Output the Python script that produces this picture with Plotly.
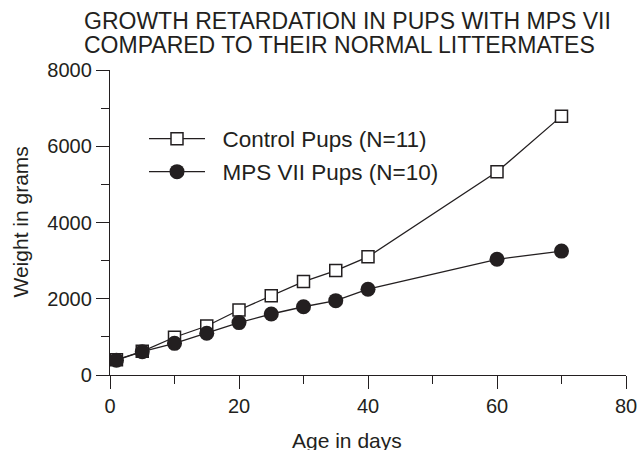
import plotly.graph_objects as go

# Body weight of pups over time (days of age vs grams)
days = [1, 5, 10, 15, 20, 25, 30, 35, 40, 60, 70]
control_weight = [400, 620, 990, 1285, 1705, 2080, 2450, 2740, 3100, 5330, 6790]
mps_weight = [390, 610, 830, 1095, 1375, 1600, 1790, 1950, 2250, 3035, 3250]

x_ticks = [0, 20, 40, 60, 80]
y_ticks = [0, 2000, 4000, 6000, 8000]

title_lines = ["GROWTH RETARDATION IN PUPS WITH MPS VII",
               "COMPARED TO THEIR NORMAL LITTERMATES"]

INK = "#231f20"
FONT = "Liberation Sans, Arial, Helvetica, sans-serif"
NBSP = "\u00a0"

# plot area in pixels
L, R, T, B = 110, 13, 70, 75
W, H = 639, 450
PW, PH = W - L - R, H - T - B


def px(xpix):
    return (xpix - L) / PW


def py(ypix):
    return (H - B - ypix) / PH


fig = go.Figure()

fig.add_trace(go.Scatter(
    x=days, y=control_weight, mode="lines+markers",
    name=NBSP * 2 + "Control Pups (N=11)", legend="legend",
    line=dict(color=INK, width=1.3),
    marker=dict(symbol="square", size=12, color="white",
                line=dict(color=INK, width=1.5)),
))
fig.add_trace(go.Scatter(
    x=days, y=mps_weight, mode="lines+markers",
    name=NBSP * 2 + "MPS VII Pups (N=10)", legend="legend2",
    line=dict(color=INK, width=1.3),
    marker=dict(symbol="circle", size=15, color=INK,
                line=dict(color=INK, width=0)),
))

axis_common = dict(
    showline=True, linecolor=INK, linewidth=1.3,
    ticks="outside", ticklen=13, tickwidth=1.3, tickcolor=INK,
    showgrid=False, zeroline=False, automargin=False,
    tickfont=dict(family=FONT, size=20, color=INK),
)

fig.update_xaxes(range=[0, 80], tickvals=x_ticks,
                 minor=dict(dtick=10, ticks="outside", ticklen=8,
                            tickwidth=1.3, tickcolor=INK),
                 **axis_common)
fig.update_yaxes(range=[0, 8000], tickvals=y_ticks,
                 minor=dict(dtick=1000, ticks="outside", ticklen=8,
                            tickwidth=1.3, tickcolor=INK),
                 **axis_common)

legend_common = dict(
    xref="paper", yref="paper", xanchor="left", yanchor="middle",
    bgcolor="rgba(0,0,0,0)", borderwidth=0, itemwidth=56,
    font=dict(family=FONT, size=22.5, color=INK),
)

annotations = []
for i, line in enumerate(title_lines):
    annotations.append(dict(
        text=line, xref="paper", yref="paper", x=px(82), y=py(21 + 24 * i),
        xanchor="left", yanchor="middle", align="left", showarrow=False,
        font=dict(family=FONT, size=23, color=INK)))
annotations += [
    dict(text="Weight in grams", textangle=-90,
         xref="paper", yref="paper", x=px(20), y=0.5,
         xanchor="center", yanchor="middle", showarrow=False,
         font=dict(family=FONT, size=21, color=INK)),
    dict(text="Age in days",
         xref="paper", yref="paper", x=px(347), y=py(440),
         xanchor="center", yanchor="middle", showarrow=False,
         font=dict(family=FONT, size=21, color=INK)),
]

fig.update_layout(
    width=W, height=H,
    margin=dict(l=L, r=R, t=T, b=B, autoexpand=False),
    paper_bgcolor="white", plot_bgcolor="white",
    showlegend=True,
    legend=dict(x=px(144), y=py(139), **legend_common),
    legend2=dict(x=px(144), y=py(172), **legend_common),
    font=dict(family=FONT, color=INK),
    annotations=annotations,
)

fig.write_html("out.html")
